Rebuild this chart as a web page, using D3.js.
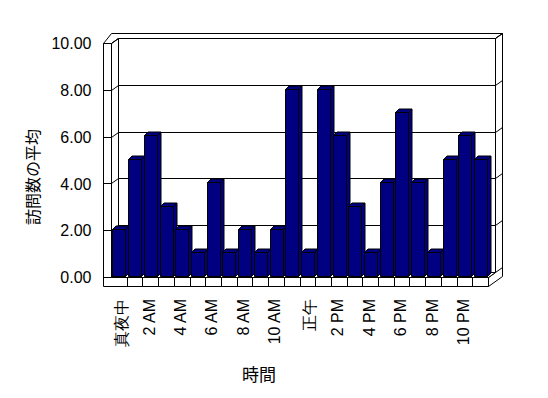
<!DOCTYPE html>
<html lang="ja">
<head>
<meta charset="UTF-8">
<title>訪問数の平均</title>
<script src="https://cdnjs.cloudflare.com/ajax/libs/d3/7.8.5/d3.min.js"></script>
<style>
    body { margin: 0; background: #fff; }
    svg { display: block; font-family: "Noto Sans CJK JP", "Noto Sans", sans-serif; }
    svg text { fill: #000; }
    .frame { fill: #fff; stroke: #000; stroke-width: 1px; }
    .grid { stroke: #000; stroke-width: 1px; fill: none; }
    .bar path { fill: #000080; stroke: #000; stroke-width: 1px; stroke-linejoin: miter; }
    .axis text { font-size: 16px; }
</style>
</head>
<body>
<script>
"use strict";

// data
const hourLabels = ["真夜中", "1 AM", "2 AM", "3 AM", "4 AM", "5 AM", "6 AM", "7 AM", "8 AM", "9 AM", "10 AM", "11 AM",
    "正午", "1 PM", "2 PM", "3 PM", "4 PM", "5 PM", "6 PM", "7 PM", "8 PM", "9 PM", "10 PM", "11 PM"];
const visits = [2, 5, 6, 3, 2, 1, 4, 1, 2, 1, 2, 8, 1, 8, 6, 3, 1, 4, 7, 4, 1, 5, 6, 5];
const yTicks = [0, 2, 4, 6, 8, 10];
const xTickLabels = hourLabels.filter((d, i) => i % 2 === 0);

// layout of the 3d box
const width = 548, height = 398;
const x0 = 111.5, x1 = 488.5, yBase = 277.5, yTop = 43.5;
const wallT = 8, floorT = 9;
const dx = 7, dy = -5;        // depth of the plot area
const bdx = 3.5, bdy = -3.5;  // depth of a bar

const svg = d3.select("body").append("svg")
    .attr("width", width)
    .attr("height", height);

const y = d3.scaleLinear().domain([0, 10]).range([yBase, yTop]);
const x = d3.scaleBand().domain(hourLabels).range([x0, x1 - 2]).paddingInner(0.15).paddingOuter(0);
const floorX = d3.scaleBand().domain(hourLabels).range([x0, x1]);

const poly = pts => "M" + pts.map(p => p.join(",")).join("L") + "Z";
const crisp = v => Math.round(v - 0.5) + 0.5;

// back wall
svg.append("rect").attr("class", "frame")
    .attr("x", x0 + dx).attr("y", yTop + dy)
    .attr("width", x1 - x0).attr("height", yBase - yTop);

// top of the left and back walls
svg.append("path").attr("class", "frame")
    .attr("d", poly([[x0 - wallT, yTop], [x0, yTop], [x0 + dx, yTop + dy], [x1 + dx, yTop + dy],
        [x1 + 2 * dx, yTop + 2 * dy], [x0 - wallT + dx + 1, yTop + 2 * dy]]));

// right side of back wall + floor
svg.append("path").attr("class", "frame")
    .attr("d", poly([[x1, yBase], [x1 + dx, yBase + dy], [x1 + dx, yTop + dy], [x1 + 2 * dx, yTop + 2 * dy],
        [x1 + 2 * dx, yBase + floorT + 2 * dy], [x1, yBase + floorT]]));

// inner face of left wall
svg.append("path").attr("class", "frame")
    .attr("d", poly([[x0, yTop], [x0 + dx, yTop + dy], [x0 + dx, yBase + dy], [x0, yBase]]));

// gridlines
const grid = svg.append("g").attr("class", "grid");
yTicks.forEach(v => {
    const gy = crisp(y(v));
    grid.append("path").attr("d",
        `M${x0},${gy}L${x0 + dx},${gy + dy}L${x1 + dx},${gy + dy}L${x1 + 2 * dx},${gy + 2 * dy}`);
});

// floor top
svg.append("path").attr("class", "frame")
    .attr("d", poly([[x0, yBase], [x1, yBase], [x1 + dx, yBase + dy], [x0 + dx, yBase + dy]]));

// bars
const bw = Math.round(x.bandwidth());
const bars = svg.append("g").selectAll("g.bar")
    .data(visits)
    .join("g")
    .attr("class", "bar");

bars.each(function (v, i) {
    const g = d3.select(this);
    const L = crisp(x(hourLabels[i]) + 1.4);
    const R = L + bw;
    const top = crisp(y(v) - 1.2);
    const bot = yBase - 1;
    g.append("path").attr("d", poly([[L, top], [R, top], [R, bot], [L, bot]]));
    g.append("path").attr("d", poly([[R, top], [R + bdx, top + bdy], [R + bdx, bot + bdy], [R, bot]]));
    g.append("path").attr("d", poly([[L, top], [R, top], [R + bdx, top + bdy], [L + bdx, top + bdy]]));
});

// front face of left wall and floor
svg.append("path").attr("class", "frame")
    .attr("d", poly([[x0 - wallT, yTop], [x0, yTop], [x0, yBase], [x1, yBase],
        [x1, yBase + floorT], [x0 - wallT, yBase + floorT]]));

const front = svg.append("g").attr("class", "grid");
yTicks.forEach(v => {
    const gy = crisp(y(v));
    front.append("line").attr("x1", x0 - wallT).attr("x2", x0).attr("y1", gy).attr("y2", gy);
});
hourLabels.slice(1).forEach(d => {
    const fx = crisp(floorX(d));
    front.append("line").attr("x1", fx).attr("x2", fx).attr("y1", yBase).attr("y2", yBase + floorT);
});

// y axis labels
const yAxis = svg.append("g")
    .attr("class", "axis")
    .attr("transform", `translate(${x0 - wallT},0)`)
    .call(d3.axisLeft(y).tickValues(yTicks).tickFormat(d3.format(".2f")).tickSize(0).tickPadding(12));
yAxis.select(".domain").remove();
yAxis.selectAll("text").style("font-size", "16px").attr("fill", "#000");

// x axis labels
const xAxis = svg.append("g")
    .attr("class", "axis")
    .attr("transform", "translate(0,299)")
    .call(d3.axisBottom(x).tickValues(xTickLabels).tickSize(0));
xAxis.select(".domain").remove();
xAxis.selectAll("text")
    .attr("transform", "rotate(-90)")
    .attr("x", 0)
    .attr("y", 0)
    .attr("dy", d => /[^\x00-\x7F]/.test(d) ? "0.53em" : "0.31em")
    .style("text-anchor", "end")
    .style("font-size", "16px")
    .attr("fill", "#000");

// titles
svg.append("text")
    .attr("x", 259)
    .attr("y", 381)
    .attr("text-anchor", "middle")
    .attr("fill", "#000")
    .style("font-size", "17px")
    .text("時間");

svg.append("text")
    .attr("transform", "translate(33,177) rotate(-90)")
    .attr("dy", "0.35em")
    .attr("text-anchor", "middle")
    .attr("fill", "#000")
    .style("font-size", "16px")
    .text("訪問数の平均");
</script>
</body>
</html>
